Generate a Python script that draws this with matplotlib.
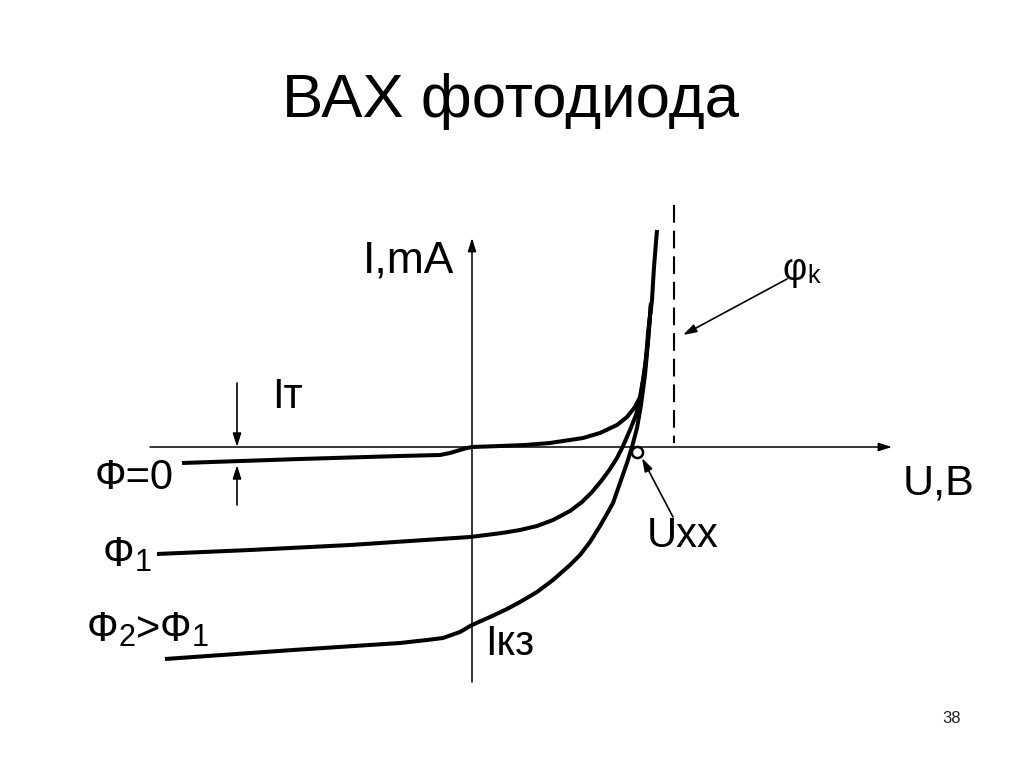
import numpy as np
import matplotlib
matplotlib.use("Agg")
import matplotlib.pyplot as plt

plt.rcParams['font.family'] = ['Liberation Sans', 'DejaVu Sans']

# I-U curves (arbitrary units, origin where the axes cross)
phi0_u = [-290, -172, -72, -32, -22, -12, -7, 0, 28, 53, 78, 111, 128, 145, 155, 163, 168,
          171, 174, 176, 180, 182, 185]
phi0_i = [-16, -12, -9, -8, -6, -3, -1.5, 0, 1, 2, 4, 9, 14, 22, 30, 40, 50,
          67, 87, 114, 147, 180, 217]

phi1_u = [-315, -222, -122, -2, 30, 48, 65, 81, 98, 110, 120, 130, 138, 145, 151, 158, 164,
          168, 172, 176, 179]
phi1_i = [-107, -103, -98, -90, -86, -83, -79, -73, -64, -55, -45, -33, -22, -11, 1, 17, 32,
          47, 72, 107, 144]

phi2_u = [-307, -179, -72, -45, -29, -12, 0, 18, 35, 48, 65, 81, 98, 108, 118, 128, 136, 141,
          148, 155, 160, 165, 169, 173, 176, 179]
phi2_i = [-212, -203, -196, -193, -191, -185, -178, -170, -162, -155, -145, -133, -118, -108,
          -95, -79, -65, -56, -36, -16, 0, 19, 42, 72, 105, 144]

u_contact = 202          # contact potential (dashed line)
u_open = (165, -5)       # Uxx point

fig = plt.figure(figsize=(10.24, 7.67), dpi=100)
ax = fig.add_axes([0, 0, 1, 1])
ax.set_xlim(-472, 552)
ax.set_ylim(-320, 447)
ax.axis('off')

arrow_kw = dict(arrowstyle='-|>,head_length=0.8,head_width=0.25', color='black',
                lw=1.1, shrinkA=0, shrinkB=0)

# axes
ax.annotate('', xy=(420, 0), xytext=(-322, 0), arrowprops=arrow_kw)
ax.annotate('', xy=(0, 209), xytext=(0, -235), arrowprops=arrow_kw)

# dashed contact potential line
ax.plot([u_contact, u_contact], [242, 4], color='black', lw=1.5, linestyle=(0, (8.5, 3.8)))

# curves
for u, i in [(phi0_u, phi0_i), (phi1_u, phi1_i), (phi2_u, phi2_i)]:
    ax.plot(u, i, color='black', lw=2.9, solid_joinstyle='round', solid_capstyle='butt')

ax.plot([u_open[0]], [u_open[1]], 'o', ms=8, mfc='white', mec='black', mew=1.8, zorder=5)

# pointer arrows
thin = dict(arrow_kw, lw=1.2)
ax.annotate('', xy=(211, 112), xytext=(315, 168), arrowprops=thin)
ax.annotate('', xy=(170, -11), xytext=(201, -70), arrowprops=thin)
ax.annotate('', xy=(-235, 0), xytext=(-235, 64), arrowprops=thin)
ax.annotate('', xy=(-235, -18), xytext=(-235, -58), arrowprops=thin)


def label_runs(u, i, runs):
    first = ax.text(u, i, runs[0][0], fontsize=runs[0][1], va='baseline')
    prev = first
    for s, fs, dy in runs[1:]:
        prev = ax.annotate(s, xy=(1, 0), xycoords=(prev, first), xytext=(0, dy),
                           textcoords='offset points', fontsize=fs, va='bottom')
    return first


ax.text(39, 330, 'ВАХ фотодиода', fontsize=44.5, ha='center', va='baseline')
ax.text(-109, 175, 'I,mA', fontsize=32, va='baseline')
ax.text(-200, 39, 'Iт', fontsize=30, va='baseline')
ax.text(-377, -42, 'Ф=0', fontsize=30, va='baseline')
label_runs(-369, -119, [('Ф', 30), ('1', 22, -2)])
label_runs(-385, -194, [('Ф', 30), ('2', 22, -2), ('>', 30, 0), ('Ф', 30, 0), ('1', 22, -2)])
ax.text(13, -208, 'Iкз', fontsize=30, va='baseline')
ax.text(175, -100, 'Uxx', fontsize=30, va='baseline')
ax.text(431, -48, 'U,B', fontsize=31, va='baseline')
label_runs(311, 167, [('φ', 27), ('k', 18, 0)])
ax.text(470, -276, '38', fontsize=12, va='baseline', color='#222222')

fig.savefig('out.png', dpi=100)
